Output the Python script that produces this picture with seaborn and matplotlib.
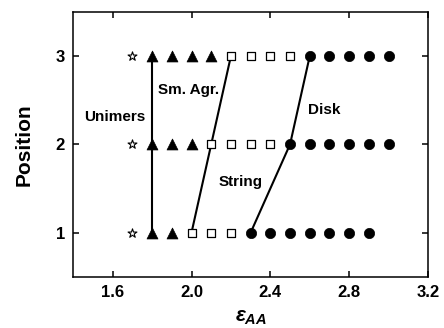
import numpy as np
import pandas as pd
import matplotlib
matplotlib.use("Agg")
import matplotlib.pyplot as plt
import seaborn as sns

# Phase observations at each position versus epsilon_AA
unimer_x = [1.7, 1.7, 1.7]
unimer_pos = [1, 2, 3]

agg_x = [1.8, 1.9, 1.8, 1.9, 2.0, 1.8, 1.9, 2.0, 2.1]
agg_pos = [1, 1, 2, 2, 2, 3, 3, 3, 3]

string_x = [2.0, 2.1, 2.2, 2.1, 2.2, 2.3, 2.4, 2.2, 2.3, 2.4, 2.5]
string_pos = [1, 1, 1, 2, 2, 2, 2, 3, 3, 3, 3]

disk_x = [2.3, 2.4, 2.5, 2.6, 2.7, 2.8, 2.9,
          2.5, 2.6, 2.7, 2.8, 2.9, 3.0,
          2.6, 2.7, 2.8, 2.9, 3.0]
disk_pos = [1, 1, 1, 1, 1, 1, 1,
            2, 2, 2, 2, 2, 2,
            3, 3, 3, 3, 3]

# Phase boundaries (epsilon_AA at positions 1, 2, 3)
boundary_pos = [1, 2, 3]
unimer_agg_bound = [1.8, 1.8, 1.8]
agg_string_bound = [2.0, 2.1, 2.2]
string_disk_bound = [2.3, 2.5, 2.6]

x_ticks = [1.6, 2.0, 2.4, 2.8, 3.2]
y_ticks = [1, 2, 3]

sns.set_theme(style="ticks")
plt.rcParams["font.family"] = ["Liberation Sans", "DejaVu Sans"]
plt.rcParams["font.weight"] = "bold"
plt.rcParams["mathtext.fontset"] = "custom"
plt.rcParams["mathtext.it"] = "Liberation Sans:italic:bold"
plt.rcParams["mathtext.rm"] = "Liberation Sans:bold"
plt.rcParams["text.color"] = "black"
plt.rcParams["axes.labelcolor"] = "black"
plt.rcParams["xtick.color"] = "black"
plt.rcParams["ytick.color"] = "black"

fig = plt.figure(figsize=(4.44, 3.28), dpi=100)
ax = fig.add_axes([0.165, 0.156, 0.799, 0.808])

bounds = pd.DataFrame({
    "pos": boundary_pos * 3,
    "eps": unimer_agg_bound + agg_string_bound + string_disk_bound,
    "line": ["a"] * 3 + ["b"] * 3 + ["c"] * 3,
})
for name, grp in bounds.groupby("line"):
    sns.lineplot(data=grp, x="eps", y="pos", color="black", lw=1.5,
                 sort=False, estimator=None, ax=ax, zorder=2)

def phase(xs, ps):
    return pd.DataFrame({"eps": xs, "pos": ps})

sns.scatterplot(data=phase(unimer_x, unimer_pos), x="eps", y="pos", marker="*",
                s=45, facecolor="white", edgecolor="black", linewidth=0.8,
                ax=ax, zorder=3)
sns.scatterplot(data=phase(agg_x, agg_pos), x="eps", y="pos", marker="^",
                s=62, color="black", edgecolor="black", linewidth=0.5,
                ax=ax, zorder=3)
sns.scatterplot(data=phase(string_x, string_pos), x="eps", y="pos", marker="s",
                s=26, facecolor="white", edgecolor="black", linewidth=0.9,
                ax=ax, zorder=3)
sns.scatterplot(data=phase(disk_x, disk_pos), x="eps", y="pos", marker="o",
                s=55, color="black", edgecolor="black", linewidth=0.5,
                ax=ax, zorder=3)

txt = dict(fontsize=11, fontweight="bold", ha="center", va="center", color="black")
ax.text(1.612, 2.31, "Unimers", **txt)
ax.text(1.983, 2.613, "Sm. Agr.", **txt)
ax.text(2.674, 2.387, "Disk", **txt)
ax.text(2.25, 1.575, "String", **txt)

ax.set_xlim(1.4, 3.2)
ax.set_ylim(0.5, 3.5)
ax.set_xticks(x_ticks)
ax.set_xticklabels([f"{v:.1f}" for v in x_ticks])
ax.set_yticks(y_ticks)
ax.set_yticklabels([str(v) for v in y_ticks])
ax.tick_params(direction="in", length=4, width=1.1, top=True, right=True,
               labelsize=12, pad=6, colors="black")
for lab in ax.get_xticklabels() + ax.get_yticklabels():
    lab.set_fontweight("bold")
for sp in ax.spines.values():
    sp.set_linewidth(1.1)
    sp.set_color("black")

ax.set_xlabel(r"$\varepsilon_{AA}$", fontsize=15, labelpad=6, color="black")
ax.set_ylabel("Position", fontsize=15, fontweight="bold", labelpad=16,
              color="black")

fig.savefig("out.png", dpi=100)
